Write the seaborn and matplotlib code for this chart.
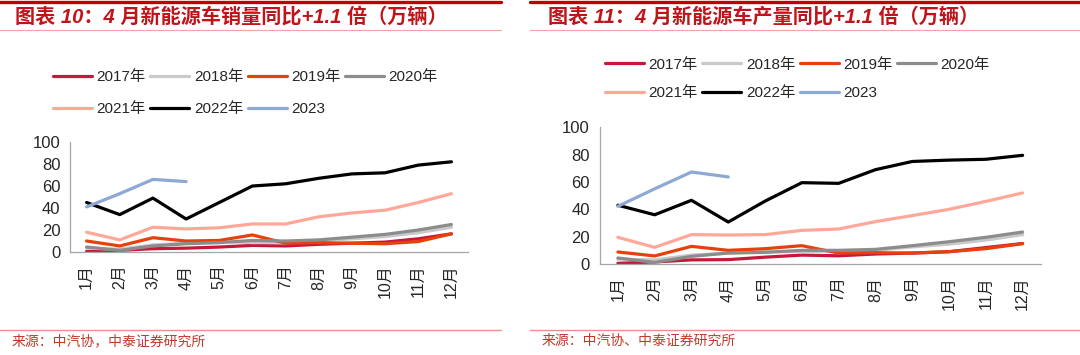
import matplotlib
matplotlib.use('Agg')
import matplotlib.pyplot as plt
from matplotlib.lines import Line2D
import pandas as pd
import seaborn as sns

months = ['1月', '2月', '3月', '4月', '5月', '6月', '7月', '8月', '9月', '10月', '11月', '12月']
years = ['2017年', '2018年', '2019年', '2020年', '2021年', '2022年', '2023']
colors = ['#C8173A', '#C9C9C9', '#E8400C', '#8C8C8C', '#FFA899', '#000000', '#8EA8D6']

# 销量（万辆）
sales_2017 = [0.5, 1.5, 3, 3.5, 4.5, 6, 5.5, 7, 8, 9, 12, 16.5]
sales_2018 = [3.5, 2.5, 6.5, 8, 9.5, 8.5, 8.5, 10, 12, 14, 17.5, 22.5]
sales_2019 = [10, 5.5, 13, 10, 10.5, 15.5, 8, 8.5, 8, 7.5, 9.5, 16.5]
sales_2020 = [4.5, 1.5, 5.5, 7.5, 8.5, 10.5, 10, 11, 13.5, 16, 20, 25]
sales_2021 = [18, 11, 22.5, 21, 22, 25.5, 25.5, 32, 35.5, 38, 45, 53]
sales_2022 = [45, 34, 49, 30, 45, 60, 62, 67, 71, 72, 79, 82]
sales_2023 = [41, 53, 66, 64]

# 产量（万辆）
prod_2017 = [0.5, 1.5, 3, 3.2, 5, 6.5, 6, 7.3, 8, 9, 12, 15]
prod_2018 = [3.5, 3, 6.5, 8, 9, 9, 9.5, 10, 12.5, 14.5, 17.5, 21.5]
prod_2019 = [8.8, 5.9, 12.9, 10, 11.2, 13.4, 8, 8.3, 8, 9, 11.2, 14.9]
prod_2020 = [4.4, 1.2, 5.6, 8, 8.5, 10, 10, 10.7, 13.4, 16.3, 19.5, 23.4]
prod_2021 = [19.5, 12.2, 21.5, 21.2, 21.5, 24.6, 25.6, 31, 35.4, 40, 45.8, 52]
prod_2022 = [43, 36, 46.6, 30.7, 46, 59.5, 59, 69, 75, 76, 76.6, 79.5]
prod_2023 = [42.2, 55, 67.3, 63.7]

sales = [sales_2017, sales_2018, sales_2019, sales_2020, sales_2021, sales_2022, sales_2023]
prod = [prod_2017, prod_2018, prod_2019, prod_2020, prod_2021, prod_2022, prod_2023]

titles = ['图表 10：4 月新能源车销量同比+1.1 倍（万辆）', '图表 11：4 月新能源车产量同比+1.1 倍（万辆）']
sources = ['来源：中汽协，中泰证券研究所', '来源：中汽协、中泰证券研究所']

sns.set_style('white')
plt.rcParams['font.family'] = ['Liberation Sans', 'Noto Sans CJK SC']

fig = plt.figure(figsize=(10.8, 3.55), dpi=100)
W, H = 1080, 355

panels = [
    dict(data=sales, rect=[70 / W, 103 / H, 398 / W, 110 / H], leg=(53, 70), lsp=1.2,
         bar=(0, 501), title_x=15, src_x=12),
    dict(data=prod, rect=[599.5 / W, 91 / H, 441.5 / W, 136.7 / H], leg=(605, 57.5), lsp=0.98,
         bar=(530, 1080), title_x=548, src_x=542),
]

# legend is filled column by column, so reorder to read row by row
leg_order = [0, 4, 1, 5, 2, 6, 3]

for p, title, src in zip(panels, titles, sources):
    ax = fig.add_axes(p['rect'])
    for yr, vals, c in zip(years, p['data'], colors):
        df = pd.DataFrame({'x': range(len(vals)), 'y': vals})
        sns.lineplot(data=df, x='x', y='y', ax=ax, color=c, lw=2.3, label=yr, legend=False)
    ax.set_xlim(-0.5, 11.5)
    ax.set_ylim(0, 100)
    ax.set_yticks(range(0, 101, 20))
    ax.set_xticks(range(12))
    ax.set_xticklabels(months, rotation=90)
    ax.set_xticks([i - 0.5 for i in range(13)], minor=True)
    ax.tick_params(axis='x', which='major', length=0, pad=9, labelsize=11.5)
    ax.tick_params(axis='x', which='minor', length=4, width=0.8, color='#A6A6A6', direction='out')
    ax.tick_params(axis='y', length=4, width=0.8, color='#A6A6A6', direction='out', labelsize=12, pad=3)
    ax.set_xlabel('')
    ax.set_ylabel('')
    for s in ['top', 'right']:
        ax.spines[s].set_visible(False)
    for s in ['left', 'bottom']:
        ax.spines[s].set_color('#A6A6A6')
        ax.spines[s].set_linewidth(0.9)

    lines = ax.get_lines()[:len(years)]
    fig.legend([lines[i] for i in leg_order], [years[i] for i in leg_order], loc='upper left',
               bbox_to_anchor=(p['leg'][0] / W, 1 - p['leg'][1] / H),
               ncol=4, frameon=False, fontsize=11, borderpad=0, borderaxespad=0,
               handlelength=2.55, handletextpad=0.3, columnspacing=0.3,
               labelspacing=p['lsp'])

    x0, x1 = p['bar'][0] / W, p['bar'][1] / W
    fig.add_artist(Line2D([x0, x1], [1 - 1.5 / H] * 2, color='#C00000', lw=2.4))
    fig.add_artist(Line2D([x0, x1], [1 - 29.5 / H] * 2, color='#F2A3A3', lw=0.8))
    fig.add_artist(Line2D([x0, x1], [1 - 329.5 / H] * 2, color='#EE8E8E', lw=1.0))
    fig.text(p['title_x'] / W, 1 - 16.5 / H, title, color='#C0141B', fontsize=14.5,
             fontweight='bold', style='italic', va='center', ha='left')
    fig.text(p['src_x'] / W, 1 - 341 / H, src, color='#C0392B', fontsize=10,
             va='center', ha='left')

fig.savefig('out.png', dpi=100)
